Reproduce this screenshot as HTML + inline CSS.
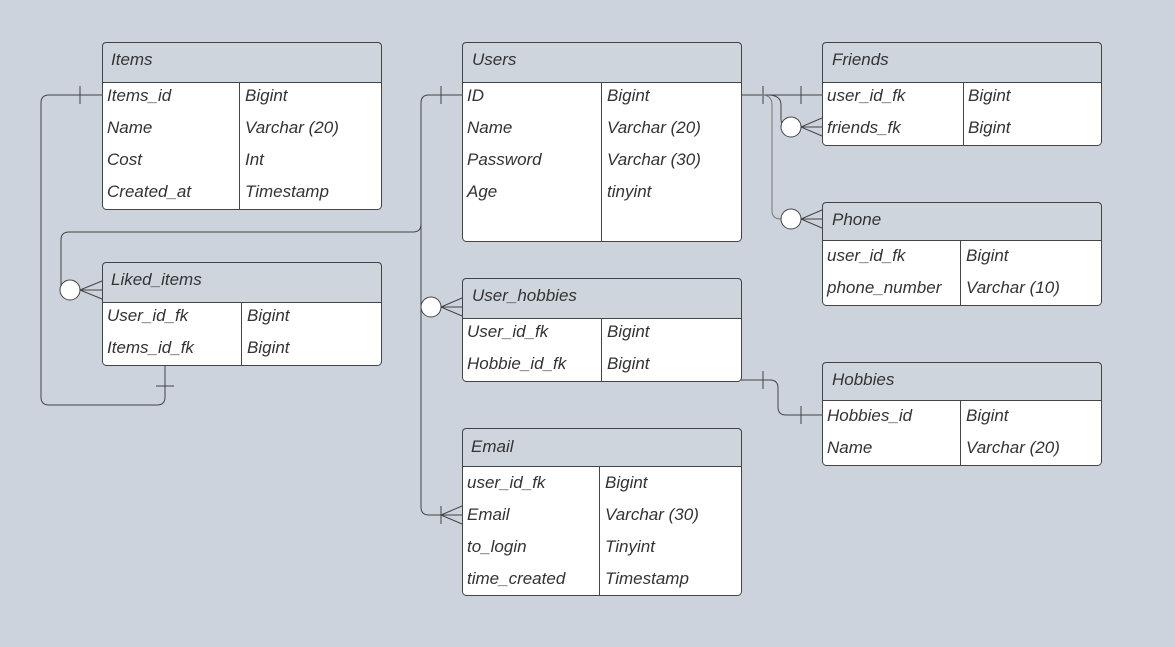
<!DOCTYPE html>
<html><head><meta charset="utf-8"><style>
html,body{margin:0;padding:0;background:#cdd3dc;}
svg{display:block}
text{font-family:"Liberation Sans",sans-serif;font-style:italic;font-size:17px;fill:#333;}
</style></head><body>
<svg width="1175" height="647" viewBox="0 0 1175 647" xmlns="http://www.w3.org/2000/svg">
<rect width="1175" height="647" fill="#cdd3dc"/>
<g fill="none" stroke="#444" stroke-width="1">
<!-- Items -> Liked_items -->
<path d="M102 95 H49 Q41 95 41 103 V397 Q41 405 49 405 H157 Q165 405 165 397 V366"/>
<path d="M80 86 V104 M156 386 H174"/>
<!-- Users ID -> Liked_items / User_hobbies / Email -->
<path d="M462 95 H429 Q421 95 421 103 V224 Q421 232 413 232 H69 Q61 232 61 240 V290 H70"/>
<path d="M421 224 V507 Q421 515 429 515 H462"/>
<path d="M441 86 V104"/>
<path d="M441 307 H462 M441 307 L462 298 M441 307 L462 316"/>
<path d="M80 290 H102 M80 290 L102 281 M80 290 L102 299"/>
<path d="M441 506 V524 M441 515 L462 506 M441 515 L462 524"/>
<!-- Users -> Friends -->
<path d="M741 95 H822 M763 86 V104 M801 86 V104"/>
<path d="M768 95 Q781 95 781 105 V119 Q781 127 789 127"/>
<path d="M801 127 H822 M801 127 L822 118 M801 127 L822 136"/>
<path d="M801 219 H822 M801 219 L822 210 M801 219 L822 228"/>
</g>
<path d="M762 95 Q772 95 772 105 V211 Q772 219 781 219" fill="none" stroke="#777" stroke-width="1"/>
<!-- User_hobbies -> Hobbies -->
<path d="M741 380 H770 Q778 380 778 388 V407 Q778 415 786 415 H822 M763 371 V389 M801 406 V424" fill="none" stroke="#444" stroke-width="1"/>
<g fill="#fff" stroke="#444" stroke-width="1">
<circle cx="70" cy="290" r="10"/>
<circle cx="431" cy="307" r="10"/>
<circle cx="791" cy="127" r="10"/>
<circle cx="791" cy="219" r="10"/>
</g>

<!-- Tables -->
<g stroke="#444" stroke-width="1">
<!-- Items -->
<rect x="102.5" y="42.5" width="279" height="167" rx="4" fill="#fff"/>
<path d="M102.5 82.5 V46.5 Q102.5 42.5 106.5 42.5 H377.5 Q381.5 42.5 381.5 46.5 V82.5 Z" fill="#cfd5dd"/>
<path d="M239.5 82.5 V209.5" fill="none"/>
<!-- Users -->
<rect x="462.5" y="42.5" width="279" height="199" rx="4" fill="#fff"/>
<path d="M462.5 82.5 V46.5 Q462.5 42.5 466.5 42.5 H737.5 Q741.5 42.5 741.5 46.5 V82.5 Z" fill="#cfd5dd"/>
<path d="M601.5 82.5 V241.5" fill="none"/>
<!-- Friends -->
<rect x="822.5" y="42.5" width="279" height="103" rx="4" fill="#fff"/>
<path d="M822.5 82.5 V46.5 Q822.5 42.5 826.5 42.5 H1097.5 Q1101.5 42.5 1101.5 46.5 V82.5 Z" fill="#cfd5dd"/>
<path d="M963.5 82.5 V145.5" fill="none"/>
<!-- Phone -->
<rect x="822.5" y="202.5" width="279" height="103" rx="4" fill="#fff"/>
<path d="M822.5 240.5 V206.5 Q822.5 202.5 826.5 202.5 H1097.5 Q1101.5 202.5 1101.5 206.5 V240.5 Z" fill="#cfd5dd"/>
<path d="M960.5 240.5 V305.5" fill="none"/>
<!-- Liked_items -->
<rect x="102.5" y="262.5" width="279" height="103" rx="4" fill="#fff"/>
<path d="M102.5 302.5 V266.5 Q102.5 262.5 106.5 262.5 H377.5 Q381.5 262.5 381.5 266.5 V302.5 Z" fill="#cfd5dd"/>
<path d="M241.5 302.5 V365.5" fill="none"/>
<!-- User_hobbies -->
<rect x="462.5" y="278.5" width="279" height="103" rx="4" fill="#fff"/>
<path d="M462.5 318.5 V282.5 Q462.5 278.5 466.5 278.5 H737.5 Q741.5 278.5 741.5 282.5 V318.5 Z" fill="#cfd5dd"/>
<path d="M601.5 318.5 V381.5" fill="none"/>
<!-- Hobbies -->
<rect x="822.5" y="362.5" width="279" height="103" rx="4" fill="#fff"/>
<path d="M822.5 400.5 V366.5 Q822.5 362.5 826.5 362.5 H1097.5 Q1101.5 362.5 1101.5 366.5 V400.5 Z" fill="#cfd5dd"/>
<path d="M960.5 400.5 V465.5" fill="none"/>
<!-- Email -->
<rect x="462.5" y="428.5" width="279" height="167" rx="4" fill="#fff"/>
<path d="M462.5 466.5 V432.5 Q462.5 428.5 466.5 428.5 H737.5 Q741.5 428.5 741.5 432.5 V466.5 Z" fill="#cfd5dd"/>
<path d="M599.5 466.5 V595.5" fill="none"/>
</g>

<g>
<text x="111" y="65">Items</text>
<text x="107" y="101">Items_id</text><text x="245" y="101">Bigint</text>
<text x="107" y="133">Name</text><text x="245" y="133">Varchar (20)</text>
<text x="107" y="165">Cost</text><text x="245" y="165">Int</text>
<text x="107" y="197">Created_at</text><text x="245" y="197">Timestamp</text>

<text x="472" y="65">Users</text>
<text x="467" y="101">ID</text><text x="607" y="101">Bigint</text>
<text x="467" y="133">Name</text><text x="607" y="133">Varchar (20)</text>
<text x="467" y="165">Password</text><text x="607" y="165">Varchar (30)</text>
<text x="467" y="197">Age</text><text x="607" y="197">tinyint</text>

<text x="832" y="65">Friends</text>
<text x="827" y="101">user_id_fk</text><text x="968" y="101">Bigint</text>
<text x="827" y="133">friends_fk</text><text x="968" y="133">Bigint</text>

<text x="832" y="225">Phone</text>
<text x="827" y="261">user_id_fk</text><text x="966" y="261">Bigint</text>
<text x="827" y="293">phone_number</text><text x="966" y="293">Varchar (10)</text>

<text x="111" y="285">Liked_items</text>
<text x="107" y="321">User_id_fk</text><text x="247" y="321">Bigint</text>
<text x="107" y="353">Items_id_fk</text><text x="247" y="353">Bigint</text>

<text x="472" y="301">User_hobbies</text>
<text x="467" y="337">User_id_fk</text><text x="607" y="337">Bigint</text>
<text x="467" y="369">Hobbie_id_fk</text><text x="607" y="369">Bigint</text>

<text x="832" y="385">Hobbies</text>
<text x="827" y="421">Hobbies_id</text><text x="966" y="421">Bigint</text>
<text x="827" y="453">Name</text><text x="966" y="453">Varchar (20)</text>

<text x="471" y="452">Email</text>
<text x="467" y="488">user_id_fk</text><text x="605" y="488">Bigint</text>
<text x="467" y="520">Email</text><text x="605" y="520">Varchar (30)</text>
<text x="467" y="552">to_login</text><text x="605" y="552">Tinyint</text>
<text x="467" y="584">time_created</text><text x="605" y="584">Timestamp</text>
</g>
</svg>
</body></html>
